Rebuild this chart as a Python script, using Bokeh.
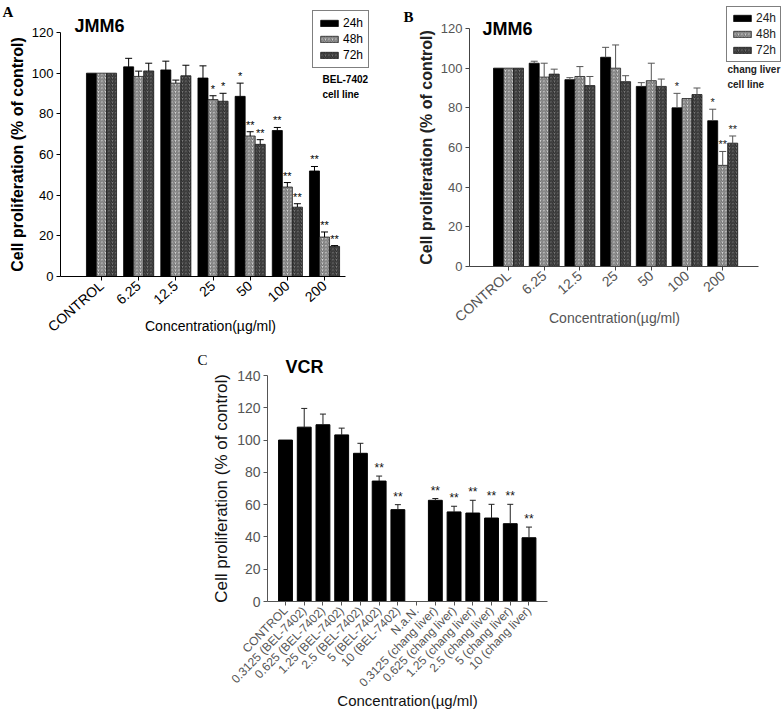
import math
from bokeh.plotting import figure
from bokeh.models import (ColumnDataSource, Range1d, FixedTicker, Whisker, TeeHead,
                          Label, Legend, LegendItem, Spacer)
from bokeh.layouts import row, column
from bokeh.embed import file_html
from bokeh.resources import INLINE
from bokeh.core.properties import value

SANS = "Liberation Sans"
SERIF = "Liberation Serif"

# ---------------- data ----------------
conc_labels = ["CONTROL", "6.25", "12.5", "25", "50", "100", "200"]
time_labels = ["24h", "48h", "72h"]

# Panel A (BEL-7402)
a_24h = [100, 103.1, 101.6, 97.6, 88.6, 71.8, 51.9]
a_24h_err = [0, 4.2, 4.3, 6.0, 6.5, 1.5, 2.2]
a_48h = [100, 98.4, 95.1, 87.0, 69.1, 44.0, 19.4]
a_48h_err = [0, 2.6, 1.5, 1.9, 2.1, 2.2, 2.5]
a_72h = [100, 101.1, 98.7, 86.2, 65.0, 34.1, 14.8]
a_72h_err = [0, 3.8, 5.2, 3.9, 2.3, 1.7, 0.4]
a_24h_sig = ["", "", "", "", "*", "**", "**"]
a_48h_sig = ["", "", "", "*", "**", "**", "**"]
a_72h_sig = ["", "", "", "*", "**", "**", "**"]

# Panel B (chang liver)
b_24h = [100, 102.5, 94.2, 105.5, 90.8, 80.0, 73.5]
b_24h_err = [0, 1.0, 1.0, 5.0, 1.9, 7.3, 5.8]
b_48h = [100, 95.5, 95.8, 100, 93.7, 84.7, 51.0]
b_48h_err = [0, 7.0, 5.0, 11.7, 8.8, 0, 7.0]
b_72h = [100, 97.0, 91.2, 93.2, 90.8, 86.7, 62.2]
b_72h_err = [0, 2.5, 4.6, 3.0, 3.7, 3.3, 3.6]
b_24h_sig = ["", "", "", "", "", "*", "*"]
b_48h_sig = ["", "", "", "", "", "", "**"]
b_72h_sig = ["", "", "", "", "", "", "**"]

# Panel C (VCR)
c_labels = ["CONTROL", "0.3125 (BEL-7402)", "0.625 (BEL-7402)", "1.25 (BEL-7402)",
            "2.5 (BEL-7402)", "5 (BEL-7402)", "10 (BEL-7402)", "N.a.N.",
            "0.3125 (chang liver)", "0.625 (chang liver)", "1.25 (chang liver)",
            "2.5 (chang liver)", "5 (chang liver)", "10 (chang liver)"]
c_vals = [100, 108.0, 109.5, 103.2, 91.8, 74.6, 56.9, float("nan"),
          62.7, 55.5, 54.8, 51.7, 48.2, 39.5]
c_err = [0, 11.6, 6.6, 4.2, 6.2, 3.1, 3.1, float("nan"),
         1.1, 3.5, 7.9, 8.5, 12.0, 6.6]
c_sig = ["", "", "", "", "", "**", "**", "", "**", "**", "**", "**", "**", "**"]

y_ticks_ab = [0, 20, 40, 60, 80, 100, 120]
y_ticks_c = [0, 20, 40, 60, 80, 100, 120, 140]

# ---------------- styles ----------------
BAR_STYLES = [
    dict(fill_color="black", line_color="black"),
    dict(fill_color="#d8d8d8", line_color="#202020", hatch_pattern="/",
         hatch_color="#707070", hatch_scale=3.5, hatch_weight=1.2),
    dict(fill_color="#7a7a7a", line_color="#202020", hatch_pattern="/",
         hatch_color="#2c2c2c", hatch_scale=3.5, hatch_weight=1.2),
]


def add_text(p, x, y, text, size, style="normal", font=SANS, color="black",
             align="left", baseline="alphabetic"):
    p.add_layout(Label(x=x, y=y, text=text, text_font=font,
                       text_font_size=f"{size}px", text_font_style=style,
                       text_color=color, text_align=align, text_baseline=baseline))


def make_fig(page_rect, frame_px, frame_py, center0, step, y_max):
    """page_rect = (left, top, right, bottom) of the figure in the picture;
    frame_px/frame_py = picture pixels of the axes box."""
    L, T, R, B = page_rect
    fx0, fx1 = frame_px
    fy0, fy1 = frame_py
    ys = (fy1 - fy0) / y_max
    kx = lambda px: (px - center0) / step
    vy = lambda py: (fy1 - py) / ys
    p = figure(width=R - L, height=B - T, output_backend="svg", toolbar_location=None,
               x_range=Range1d(kx(L), kx(R)), y_range=Range1d(vy(B), vy(T)),
               min_border=0, min_border_left=0, min_border_right=0,
               min_border_top=0, min_border_bottom=0)
    p.xgrid.visible = False
    p.ygrid.visible = False
    p.outline_line_color = None
    p.xaxis.fixed_location = 0
    p.xaxis.bounds = (kx(fx0), kx(fx1))
    p.yaxis.fixed_location = kx(fx0)
    p.yaxis.bounds = (0, y_max)
    return p, kx, vy, ys


def style_axes(p, xticks, xlabels, yticks, tick_color, axis_color, xsize, ysize,
               orient, ylabel, ylabel_size, ylabel_style, ylabel_color):
    p.xaxis.ticker = FixedTicker(ticks=xticks)
    p.xaxis.major_label_overrides = {i: lab for i, lab in zip(xticks, xlabels)}
    p.xaxis.major_label_orientation = orient
    p.yaxis.ticker = FixedTicker(ticks=yticks)
    for ax in (p.xaxis[0], p.yaxis[0]):
        ax.axis_line_color = axis_color
        ax.major_tick_line_color = axis_color
        ax.major_tick_out = 4
        ax.major_tick_in = 0
        ax.minor_tick_line_color = None
        ax.major_label_text_font = SANS
        ax.major_label_text_color = tick_color
        ax.major_label_standoff = 3
    p.xaxis.major_label_text_font_size = f"{xsize}px"
    p.yaxis.major_label_text_font_size = f"{ysize}px"
    p.yaxis.axis_label = ylabel
    p.yaxis.axis_label_text_font = SANS
    p.yaxis.axis_label_text_font_size = f"{ylabel_size}px"
    p.yaxis.axis_label_text_font_style = ylabel_style
    p.yaxis.axis_label_text_color = ylabel_color
    p.yaxis.axis_label_standoff = 3


def grouped_panel(page_rect, frame_px, frame_py, center0, step,
                  vals, errs, sigs, bar_w, err_color, text_color, axis_color,
                  tick_color, ylabel_color):
    p, kx, vy, ys = make_fig(page_rect, frame_px, frame_py, center0, step, 120)
    items = []
    n = len(conc_labels)
    for j in range(3):
        xs = [i + (j - 1) * bar_w for i in range(n)]
        src = ColumnDataSource(dict(x=xs, top=vals[j]))
        r = p.vbar(x="x", top="top", width=bar_w, bottom=0, source=src,
                   line_width=0.8, **BAR_STYLES[j])
        items.append(LegendItem(label=time_labels[j], renderers=[r]))
        ex, lo, hi = [], [], []
        for x, v, e in zip(xs, vals[j], errs[j]):
            if e > 0:
                ex.append(x); lo.append(v); hi.append(v + e)
        wsrc = ColumnDataSource(dict(x=ex, lo=lo, hi=hi))
        p.add_layout(Whisker(source=wsrc, base="x", lower="lo", upper="hi",
                             dimension="height", line_color=err_color, line_width=1,
                             upper_head=TeeHead(size=7, line_color=err_color, line_width=1),
                             lower_head=None, level="glyph"))
        sx, sy, st = [], [], []
        for x, v, e, s in zip(xs, vals[j], errs[j], sigs[j]):
            if s:
                sx.append(x); sy.append(v + e + 1.0 / ys); st.append(s)
        ssrc = ColumnDataSource(dict(x=sx, y=sy, t=st))
        p.text(x="x", y="y", text="t", source=ssrc, text_align="center",
               text_baseline="bottom", text_font=value(SANS),
               text_font_size="11px", text_color=text_color)
    style_axes(p, list(range(n)), conc_labels, y_ticks_ab, tick_color, axis_color,
               14, 13, 0.72, "Cell proliferation (% of control)", 16, "bold", ylabel_color)
    return p, items, kx, vy


def make_legend(items, loc_x, loc_y, color, pad):
    return Legend(items=items, location=(loc_x, loc_y),
                  margin=0, padding=pad, spacing=2, glyph_width=22, glyph_height=8,
                  label_standoff=3, label_height=13, label_text_font=SANS,
                  label_text_font_size="12px", label_text_color=color,
                  border_line_color="black", border_line_width=1,
                  background_fill_color="white", background_fill_alpha=1)


# ---------------- Panel A ----------------
A_RECT = (0, 0, 400, 342)
pA, itemsA, kxA, vyA = grouped_panel(
    A_RECT, (60, 345), (32, 276), 101, 37.17,
    [a_24h, a_48h, a_72h], [a_24h_err, a_48h_err, a_72h_err],
    [a_24h_sig, a_48h_sig, a_72h_sig], 0.27, "black", "black", "black", "black", "black")
pA.add_layout(make_legend(itemsA, 312 - A_RECT[0], A_RECT[3] - 68, "black", 5))
add_text(pA, kxA(2), vyA(3), "A", 15, "bold", SERIF, baseline="top")
add_text(pA, kxA(74), vyA(25), "JMM6", 18, "bold")
add_text(pA, kxA(322), vyA(79), "BEL-7402", 10, "bold")
add_text(pA, kxA(322), vyA(94), "cell line", 10, "bold")
add_text(pA, kxA(210), vyA(325), "Concentration(\u00b5g/ml)", 14, align="center",
         baseline="middle")

# ---------------- Panel B ----------------
B_RECT = (400, 0, 783, 342)
pB, itemsB, kxB, vyB = grouped_panel(
    B_RECT, (469, 758), (28, 266), 508, 35.7,
    [b_24h, b_48h, b_72h], [b_24h_err, b_48h_err, b_72h_err],
    [b_24h_sig, b_48h_sig, b_72h_sig], 0.28, "#555555", "#222222", "#444444",
    "#555555", "#222222")
pB.add_layout(make_legend(itemsB, 726 - B_RECT[0], B_RECT[3] - 62, "#222222", 4))
add_text(pB, kxB(403), vyB(8), "B", 15, "bold", SERIF, baseline="top")
add_text(pB, kxB(482), vyB(28), "JMM6", 18, "bold")
add_text(pB, kxB(727), vyB(69), "chang liver", 10, "bold", color="#222222")
add_text(pB, kxB(727), vyB(84), "cell line", 10, "bold", color="#222222")
add_text(pB, kxB(614), vyB(317), "Concentration(\u00b5g/ml)", 14, color="#555555",
         align="center", baseline="middle")

# ---------------- Panel C ----------------
C_RECT = (190, 342, 580, 715)
pC, kxC, vyC, C_YS = make_fig(C_RECT, (267, 547), (375, 601), 285, 18.73, 140)
cx = [i for i, v in enumerate(c_vals) if not math.isnan(v)]
cv = [v for v in c_vals if not math.isnan(v)]
ce = [e for e in c_err if not math.isnan(e)]
pC.vbar(x=cx, top=cv, width=0.74, bottom=0, fill_color="black", line_color="black")
wx = [x for x, e in zip(cx, ce) if e > 0]
wl = [v for v, e in zip(cv, ce) if e > 0]
wh = [v + e for v, e in zip(cv, ce) if e > 0]
pC.add_layout(Whisker(source=ColumnDataSource(dict(x=wx, lo=wl, hi=wh)), base="x",
                      lower="lo", upper="hi", dimension="height", line_color="#222222",
                      line_width=1, upper_head=TeeHead(size=6, line_color="#222222",
                                                       line_width=1),
                      lower_head=None, level="glyph"))
sx = [i for i, s in enumerate(c_sig) if s]
sy = [c_vals[i] + c_err[i] + 1.0 / C_YS for i in sx]
st = [c_sig[i] for i in sx]
pC.text(x=sx, y=sy, text=st, text_align="center", text_baseline="bottom",
        text_font=value(SANS), text_font_size="12px", text_color="#111111")
style_axes(pC, list(range(len(c_labels))), c_labels, y_ticks_c, "#555555", "#555555",
           12, 14, 0.8, "Cell proliferation (% of control)", 17, "normal", "#111111")
add_text(pC, kxC(197), vyC(351), "C", 15, "normal", SERIF, baseline="top")
add_text(pC, kxC(285), vyC(366), "VCR", 18, "bold")
add_text(pC, kxC(407), vyC(700), "Concentration(\u00b5g/ml)", 15, color="#111111",
         align="center", baseline="middle")

layout = column(row(pA, pB), row(Spacer(width=190, height=373), pC))
open("out.html", "w").write(file_html(layout, INLINE))
